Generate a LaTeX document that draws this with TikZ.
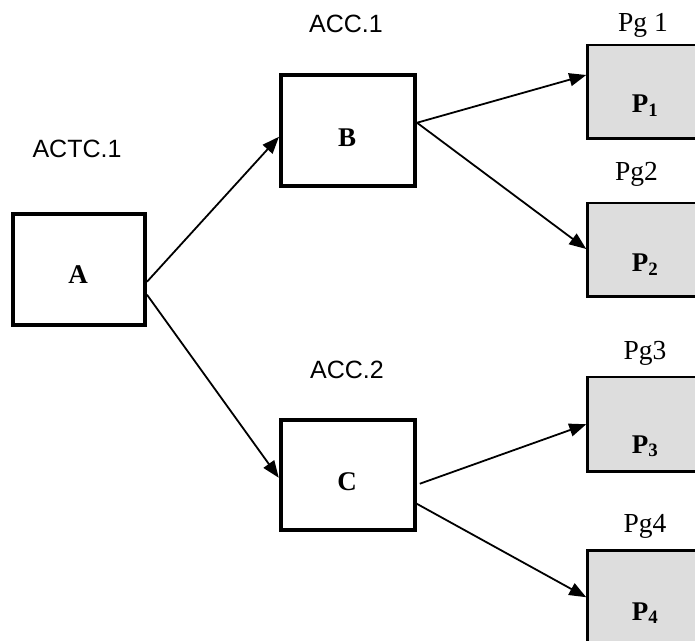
\documentclass[tikz,border=0pt]{standalone}
\usepackage{fontspec}
\setmainfont{Liberation Serif}
\setsansfont{Liberation Sans}
\usetikzlibrary{arrows.meta}
\definecolor{boxgrey}{HTML}{DDDDDD}
\begin{document}
\begin{tikzpicture}[x=1pt,y=1pt,
  mainbox/.style={draw, line width=4pt, fill=white, minimum width=134pt, minimum height=110.5pt, inner sep=0pt},
  pbox/.style={draw, line width=2.5pt, fill=boxgrey, minimum width=115pt, minimum height=93.5pt, inner sep=0pt},
  conn/.style={line width=1.8pt, -{Triangle[length=17pt,width=13pt]}},
  sanslbl/.style={font=\sffamily\fontsize{25}{28}\selectfont, anchor=base, inner sep=0pt},
  serlbl/.style={font=\fontsize{27.5}{30}\selectfont, anchor=base, inner sep=0pt},
  boldlbl/.style={font=\bfseries\fontsize{27}{30}\selectfont, anchor=base, inner sep=0pt}]
\useasboundingbox (0,0) rectangle (695,640);
\clip (0,0) rectangle (695,640);

% main boxes
\node[mainbox, minimum width=132.5pt] (A) at (78.75,370.25) {};
\node[mainbox] (B) at (348,509.25) {};
\node[mainbox] (C) at (347.75,165.25) {};

% grey boxes
\node[pbox] (P1) at (645,548.25) {};
\node[pbox] (P2) at (645,390.25) {};
\node[pbox, minimum height=94.5pt] (P3) at (645,215.75) {};
\node[pbox] (P4) at (645,42.75) {};

% box texts
\node[boldlbl] (tA) at (78,356) {A};
\node[boldlbl] (tB) at (347,493) {B};
\node[boldlbl] (tC) at (347,150) {C};
\node[boldlbl] (tP1) at (645,527) {P\textsubscript{1}};
\node[boldlbl] (tP2) at (645,368) {P\textsubscript{2}};
\node[boldlbl] (tP3) at (645,187) {P\textsubscript{3}};
\node[boldlbl] (tP4) at (645,20) {P\textsubscript{4}};

% captions
\node[serlbl] (pg1) at (643,608) {Pg 1};
\node[serlbl] (pg2) at (636.5,459) {Pg2};
\node[serlbl] (pg3) at (645,280) {Pg3};
\node[serlbl] (pg4) at (645,108) {Pg4};
\node[sanslbl] (acc1) at (346,607) {ACC.1};
\node[sanslbl] (actc1) at (77,482) {ACTC.1};
\node[sanslbl] (acc2) at (347,261) {ACC.2};

% connectors
\draw[conn] ([yshift=-12pt]A.east) -- ([yshift=-6pt]B.west);
\draw[conn] ([yshift=-25pt]A.east) -- ([yshift=-3pt]C.west);
\draw[conn] ([yshift=8pt]B.east) -- ([yshift=16.75pt]P1.west);
\draw[conn] ([yshift=8pt]B.east) -- ([yshift=0.75pt]P2.west);
\draw[conn] ([xshift=3pt,yshift=-9pt]C.east) -- (P3.west);
\draw[conn] ([yshift=-29pt]C.east) -- (P4.west);
\end{tikzpicture}
\end{document}
